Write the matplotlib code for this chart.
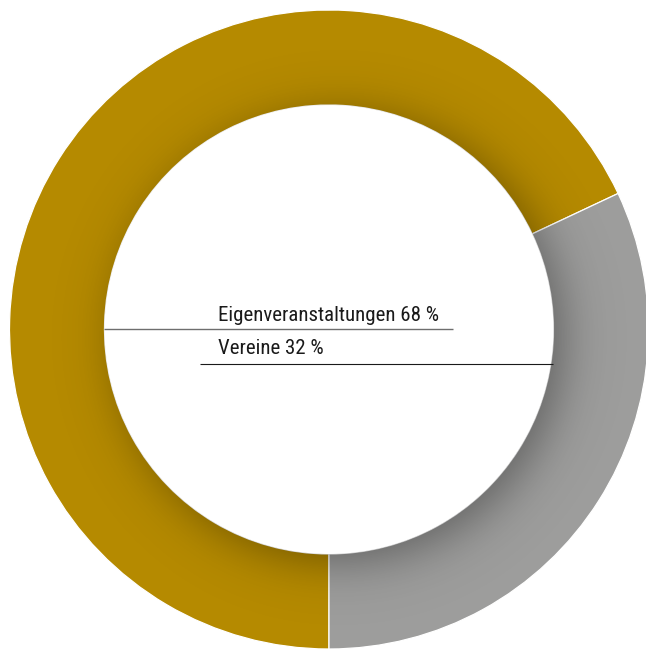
import numpy as np
import matplotlib
matplotlib.use("Agg")
import matplotlib.pyplot as plt
from matplotlib import font_manager

# ---- data ----
categories = ["Eigenveranstaltungen", "Vereine"]
shares = [68, 32]
colors = ["#B58A00", "#9D9D9C"]

# ---- layout (pixel units, y measured from bottom) ----
W, H = 646, 650
CX, CY = 329.0, H - 329.5
R_OUT, R_IN = 319.5, 224.5

fig = plt.figure(figsize=(W / 100, H / 100), dpi=100)
ax = fig.add_axes([0, 0, 1, 1])

# gray (second) wedge starts at bottom (270 deg) and goes counterclockwise
start = 270 - 360 * shares[0] / 100
wedges, _ = ax.pie(shares, colors=colors, startangle=start, counterclock=True,
                   radius=R_OUT, center=(CX, CY), frame=True,
                   wedgeprops=dict(width=R_OUT - R_IN, edgecolor="white",
                                   linewidth=0.9))

# ---- inner drop shadow (style effect) ----
xs = np.arange(W) + 0.5
ys = np.arange(H) + 0.5
X, Y = np.meshgrid(xs, ys[::-1])
rho = np.hypot(X - CX, Y - CY)
ang = np.deg2rad(-38)
off = 13.0
d = np.hypot(X - (CX + off * np.cos(ang)), Y - (CY + off * np.sin(ang))) - R_IN
A, s = 0.36, 28.0
alpha = A * 0.5 * (1 - np.tanh(d / s))
cov = np.clip(rho - R_IN + 0.5, 0, 1) * np.clip(R_OUT - rho + 0.5, 0, 1)
rgba = np.zeros((H, W, 4))
rgba[..., 3] = alpha * cov
ax.imshow(rgba, extent=(0, W, 0, H), interpolation="nearest", zorder=3,
          origin="upper")

# ---- labels ----
avail = {f.name for f in font_manager.fontManager.ttflist}
fam = "DejaVu Sans"
for cand in ["Liberation Sans Narrow", "Roboto Condensed", "Open Sans Condensed",
             "Lato", "Roboto", "Noto Sans"]:
    if cand in avail:
        fam = cand
        break

labels = [f"{c} {v} %" for c, v in zip(categories, shares)]
t1 = ax.text(218, H - 320.7, labels[0], fontsize=14, family=fam,
             color="#1a1a1a", va="baseline", ha="left", zorder=5)
fig.canvas.draw()
w = t1.get_window_extent().width
fs = 14 * 222.0 / w
t1.set_fontsize(fs)
ax.text(218, H - 354.0, labels[1], fontsize=fs, family=fam,
        color="#1a1a1a", va="baseline", ha="left", zorder=5)

ax.plot([104, 453], [H - 329.3, H - 329.3], color="#6e6e6e", lw=1.0, zorder=5,
        solid_capstyle="butt")
ax.plot([200, 553], [H - 364.0, H - 364.0], color="#1a1a1a", lw=0.8, zorder=5,
        solid_capstyle="butt")

ax.set_xlim(0, W)
ax.set_ylim(0, H)
ax.set_aspect("auto")
ax.axis("off")
fig.savefig("out.png", dpi=100, facecolor="white")
